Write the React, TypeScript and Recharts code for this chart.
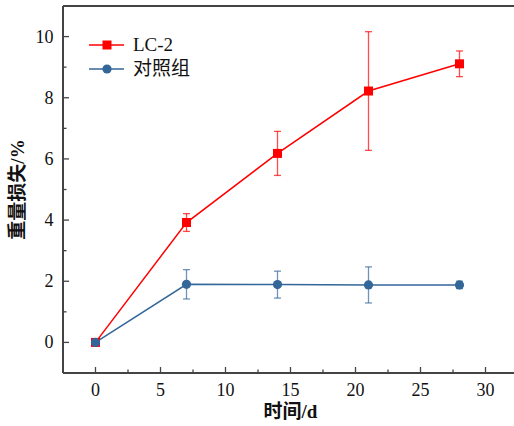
import {
  LineChart,
  Line,
  XAxis,
  YAxis,
  ErrorBar,
  ReferenceLine,
} from "recharts";

const days = [0, 7, 14, 21, 28];
const lc2 = [0, 3.92, 6.18, 8.22, 9.11];
const lc2Err = [0, 0.29, 0.72, 1.94, 0.42];
const control = [0, 1.9, 1.89, 1.88, 1.88];
const controlErr = [0, 0.48, 0.44, 0.59, 0.12];

const xTicks = [0, 2.5, 5, 7.5, 10, 12.5, 15, 17.5, 20, 22.5, 25, 27.5, 30];
const yTicks = [0, 1, 2, 3, 4, 5, 6, 7, 8, 9, 10];

const RED = "#ff0000";
const BLUE = "#336699";
const AXIS = "#444444";
const FONT = "'Liberation Serif', 'Times New Roman', 'Noto Sans CJK SC', serif";

const data = days.map((d, i) => ({
  day: d,
  lc2: lc2[i],
  lc2Err: lc2Err[i],
  control: control[i],
  controlErr: controlErr[i],
}));

function XTick(props: any) {
  const { x, y, payload } = props;
  const v = payload.value;
  const major = v % 5 === 0;
  return (
    <g>
      <line x1={x} x2={x} y1={y} y2={y - (major ? 6 : 3.5)} stroke={AXIS} strokeWidth={1.3} />
      {major && (
        <text x={x} y={y + 23} textAnchor="middle" fontSize={18} fontFamily={FONT} fill="#111">
          {v}
        </text>
      )}
    </g>
  );
}

function YTick(props: any) {
  const { x, y, payload } = props;
  const v = payload.value;
  const major = v % 2 === 0;
  return (
    <g>
      <line x1={x} x2={x + (major ? 6 : 3.5)} y1={y} y2={y} stroke={AXIS} strokeWidth={1.3} />
      {major && (
        <text x={x - 9.5} y={y + 6} textAnchor="end" fontSize={18} fontFamily={FONT} fill="#111">
          {v}
        </text>
      )}
    </g>
  );
}

function SquareDot(props: any) {
  const { cx, cy } = props;
  if (cx == null || cy == null) return null;
  return <rect x={cx - 4.5} y={cy - 4.5} width={9} height={9} fill={RED} />;
}

function CircleDot(props: any) {
  const { cx, cy } = props;
  if (cx == null || cy == null) return null;
  return <circle cx={cx} cy={cy} r={4.6} fill={BLUE} />;
}

function LegendBox() {
  const rows = [
    { name: "LC-2", color: RED, square: true },
    { name: "对照组", color: BLUE, square: false },
  ];
  return (
    <div
      style={{
        position: "absolute",
        left: 89,
        top: 33,
        fontFamily: FONT,
        fontSize: 19,
        color: "#111",
        lineHeight: "24px",
      }}
    >
      {rows.map((r) => (
        <div key={r.name} style={{ display: "flex", alignItems: "center", height: 24 }}>
          <svg width={44} height={16}>
            <line x1={0} x2={35} y1={8} y2={8} stroke={r.color} strokeWidth={1.5} />
            {r.square ? (
              <rect x={13.5} y={3.5} width={9} height={9} fill={r.color} />
            ) : (
              <circle cx={18} cy={8} r={4.6} fill={r.color} />
            )}
          </svg>
          <span>{r.name}</span>
        </div>
      ))}
    </div>
  );
}

export default function App() {
  return (
    <div
      style={{
        position: "absolute",
        left: 0,
        top: 0,
        width: 514,
        height: 426,
        overflow: "hidden",
        background: "#fff",
      }}
    >
      <LineChart
        width={518}
        height={426}
        data={data}
        margin={{ top: 6, right: 0, left: 0, bottom: 0 }}
      >
        <XAxis
          dataKey="day"
          type="number"
          domain={[-2.5, 32.5]}
          ticks={xTicks}
          interval={0}
          axisLine={{ stroke: AXIS, strokeWidth: 2 }}
          tickLine={false}
          tickSize={0}
          tickMargin={0}
          tick={<XTick />}
          height={53}
          label={{
            value: "时间/d",
            position: "insideBottom",
            offset: 8,
            fontSize: 19,
            fontWeight: "bold",
            fontFamily: FONT,
            fill: "#111",
          }}
        />
        <YAxis
          type="number"
          domain={[-1, 11]}
          ticks={yTicks}
          interval={0}
          axisLine={{ stroke: AXIS, strokeWidth: 2 }}
          tickLine={false}
          tickSize={0}
          tickMargin={0}
          tick={<YTick />}
          width={63}
          label={{
            value: "重量损失/%",
            angle: -90,
            position: "insideLeft",
            offset: 17,
            style: { textAnchor: "middle" },
            fontSize: 19,
            fontWeight: "bold",
            fontFamily: FONT,
            fill: "#111",
          }}
        />
        <ReferenceLine y={11} stroke={AXIS} strokeWidth={2} />
        <Line
          dataKey="lc2"
          stroke={RED}
          strokeWidth={1.5}
          dot={<SquareDot />}
          activeDot={false}
          isAnimationActive={false}
        >
          <ErrorBar dataKey="lc2Err" width={3.5} stroke={RED} strokeOpacity={0.7} strokeWidth={1.3} direction="y" />
        </Line>
        <Line
          dataKey="control"
          stroke={BLUE}
          strokeWidth={1.5}
          dot={<CircleDot />}
          activeDot={false}
          isAnimationActive={false}
        >
          <ErrorBar dataKey="controlErr" width={3.5} stroke={BLUE} strokeOpacity={0.7} strokeWidth={1.3} direction="y" />
        </Line>
      </LineChart>
      <LegendBox />
    </div>
  );
}
